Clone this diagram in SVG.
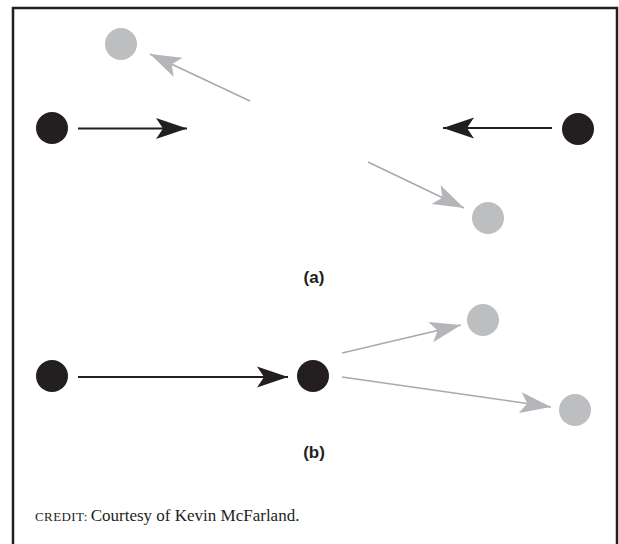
<svg xmlns="http://www.w3.org/2000/svg" width="619" height="544" viewBox="0 0 619 544">
<style>
.blk{fill:#231f20}
.gry{fill:#bcbec0}
.lb{stroke:#231f20;stroke-width:2;fill:none}
.lg{stroke:#a7a9ac;stroke-width:1.5;fill:none}
.lbl{font-family:"Liberation Sans Narrow","Liberation Sans",Arial,sans-serif;font-weight:bold;font-size:17px;fill:#231f20;text-anchor:middle}
.cr{font-family:"Liberation Serif","Times New Roman",serif;fill:#231f20}
</style>
<defs>
<marker id="hb" markerUnits="userSpaceOnUse" markerWidth="36" markerHeight="26" viewBox="-34 -13 36 26" refX="0" refY="0" orient="auto">
<path d="M0,0 L-31,-10.5 L-24,0 L-31,10.5 Z" fill="#231f20"/>
</marker>
<marker id="hg" markerUnits="userSpaceOnUse" markerWidth="36" markerHeight="26" viewBox="-34 -13 36 26" refX="0" refY="0" orient="auto">
<path d="M0,0 L-31,-10.5 L-24,0 L-31,10.5 Z" fill="#b3b5b8"/>
</marker>
</defs>
<rect width="619" height="544" fill="#fff"/>
<path d="M13,544 V8 H617 V544" fill="none" stroke="#231f20" stroke-width="2.5"/>
<g id="connectors">
<line class="lb" x1="78" y1="128.5" x2="187" y2="128.5" marker-end="url(#hb)"/>
<line class="lb" x1="552" y1="128" x2="443" y2="128" marker-end="url(#hb)"/>
<line class="lg" x1="250" y1="101" x2="150" y2="54" marker-end="url(#hg)"/>
<line class="lg" x1="368" y1="162" x2="464" y2="208" marker-end="url(#hg)"/>
<line class="lb" x1="78" y1="377" x2="288" y2="377" marker-end="url(#hb)"/>
<line class="lg" x1="342" y1="353" x2="461" y2="325" marker-end="url(#hg)"/>
<line class="lg" x1="342" y1="377" x2="551" y2="407" marker-end="url(#hg)"/>
</g>
<g id="a-left"><circle class="blk" cx="52" cy="128" r="16"/></g>
<g id="a-right"><circle class="blk" cx="578" cy="129" r="16"/></g>
<g id="a-out1"><circle class="gry" cx="121" cy="44" r="16"/></g>
<g id="a-out2"><circle class="gry" cx="488" cy="218" r="16"/></g>
<g id="b-left"><circle class="blk" cx="52" cy="376" r="16"/></g>
<g id="b-mid"><circle class="blk" cx="313" cy="376" r="16"/></g>
<g id="b-out1"><circle class="gry" cx="483" cy="320" r="16"/></g>
<g id="b-out2"><circle class="gry" cx="575" cy="410" r="16"/></g>
<text class="lbl" x="314" y="283">(a)</text>
<text class="lbl" x="314" y="458">(b)</text>
<text class="cr" x="35" y="521"><tspan font-size="13" letter-spacing="0.4">CREDIT:</tspan><tspan font-size="17" dx="3">Courtesy of Kevin McFarland.</tspan></text>
</svg>
